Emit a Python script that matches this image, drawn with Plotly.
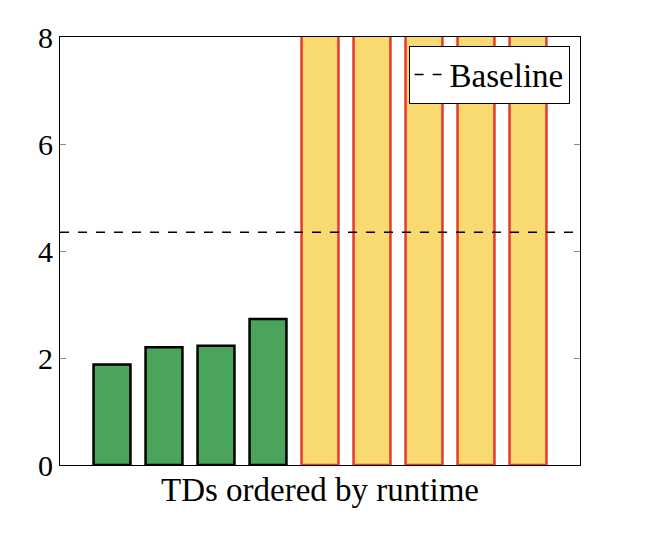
import plotly.graph_objects as go

positions = [1, 2, 3, 4, 5, 6, 7, 8, 9]
green_vals = [1.88, 2.2, 2.23, 2.73]
timeout_vals = [10, 10, 10, 10, 10]
baseline = 4.35

fig = go.Figure()
fig.add_trace(go.Bar(x=positions[:4], y=green_vals, width=0.71,
                     marker=dict(color="#4aa55a", line=dict(color="black", width=2.5)),
                     showlegend=False))
fig.add_trace(go.Bar(x=positions[4:], y=timeout_vals, width=0.71,
                     marker=dict(color="#f8da70", line=dict(color="#e8392a", width=2.5)),
                     showlegend=False))
fig.add_trace(go.Scatter(x=[0, 10], y=[baseline, baseline], mode="lines",
                         line=dict(color="black", width=1.5, dash="dash"),
                         name="Baseline"))

fig.update_layout(
    width=662, height=556,
    margin=dict(l=52, r=90, t=25, b=99),
    plot_bgcolor="white", paper_bgcolor="white",
    font=dict(family="Liberation Serif", size=30, color="black"),
    legend=dict(x=0.98, y=0.98, xanchor="right", yanchor="top",
                bordercolor="black", borderwidth=1, bgcolor="white",
                font=dict(size=33)),
    xaxis=dict(range=[0, 10], showticklabels=False, ticks="",
               showline=True, linecolor="black", linewidth=1, mirror=True,
               showgrid=False, zeroline=False,
               title=dict(text="TDs ordered by runtime", standoff=12,
                          font=dict(size=33))),
    yaxis=dict(range=[0, 8], tickvals=[0, 2, 4, 6, 8], ticks="inside",
               ticklen=6, tickcolor="#888", showline=True, linecolor="black",
               linewidth=1, mirror="ticks", showgrid=False, zeroline=False),
)

fig.write_html("out.html")
